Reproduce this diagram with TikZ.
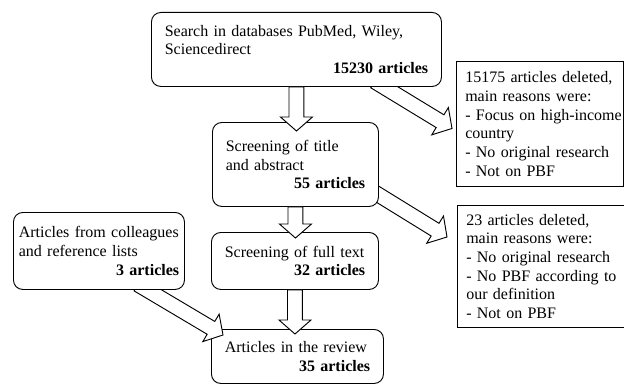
\documentclass[tikz,border=0pt]{standalone}
\usepackage{fontspec}
\setmainfont{Liberation Serif}
\usetikzlibrary{calc}
\pgfdeclarelayer{bg}\pgfdeclarelayer{mid}\pgfdeclarelayer{fg}
\pgfsetlayers{bg,mid,main,fg}
\tikzset{
  box/.style={draw,line width=0.7pt,rounded corners=7pt,fill=white,anchor=north west,align=left,inner xsep=10pt,inner ysep=2pt,font=\fontsize{12}{14}\selectfont},
  delbox/.style={box,rounded corners=0pt,inner xsep=6.6pt,text width=112pt},
  barr/.style={draw,line width=0.7pt,fill=white,line join=miter}
}
\newcommand{\cnt}[1]{\\\hspace*{\fill}\textbf{#1}}
\newcommand{\blockar}[3][0pt]{\coordinate (tb) at ($(#2)!-#1!(#3)$);
  \coordinate (hb) at ($(#3)!10.5pt!(#2)$);
  \draw[barr] ($(tb)!5.6pt!90:(#3)$) -- ($(hb)!5.6pt!90:(#3)$) -- ($(hb)!12pt!90:(#3)$) -- (#3)
    -- ($(hb)!12pt!-90:(#3)$) -- ($(hb)!5.6pt!-90:(#3)$) -- ($(tb)!5.6pt!-90:(#3)$) -- cycle;}

\begin{document}
\begin{tikzpicture}[x=0.75pt,y=-0.75pt]
\useasboundingbox (0,0) rectangle (624,385);
\begin{pgfonlayer}{bg}
\node[box,text width=109pt,minimum height=40.5pt] (review) at (211,329) {Articles in the review\cnt{35 articles}};
\end{pgfonlayer}
\node[box,text width=197.5pt,minimum height=55.5pt] (search) at (151,12) {Search in databases PubMed, Wiley,\\Sciencedirect\cnt{15230 articles}};
\node[box,text width=104.5pt,minimum height=63pt] (title) at (212,122) {Screening of title\\and abstract\cnt{55 articles}};
\node[box,text width=105.25pt,minimum height=42.75pt] (full) at (211,232) {Screening of full text\cnt{32 articles}};
\node[box,inner xsep=4pt,text width=120.25pt,minimum height=57.75pt] (coll) at (13,212) {Articles from colleagues\\and reference lists\cnt{3 articles}};
\node[delbox,minimum height=93.75pt] (del1) at (456,61) {\mbox{15175 articles deleted,}\\main reasons were:\\\mbox{- Focus on high-income}\\country\\\mbox{- No original research}\\- Not on PBF};
\node[delbox,minimum height=91.5pt] (del2) at (457,205) {\mbox{23 articles deleted,}\\main reasons were:\\\mbox{- No original research}\\\mbox{- No PBF according to}\\our definition\\- Not on PBF};
% side arrows
\begin{pgfonlayer}{mid}
\coordinate (sD) at ($(search.south west)!0.8!(search.south east)$);
\coordinate (tD) at ($(del1.west)+(-4,4.5)$);
\blockar[8pt]{sD}{tD}
\coordinate (sF) at ($(title.north east)!0.86!(title.south east)$);
\coordinate (tF) at ($(del2.north west)+(-10,32)$);
\blockar[8pt]{sF}{tF}
\coordinate (sE) at ($(coll.south west)!0.78!(coll.south east)$);
\coordinate (tE) at ($(review.north west)+(12,6)$);
\blockar[8pt]{sE}{tE}
\end{pgfonlayer}
% main flow
\begin{pgfonlayer}{fg}
\coordinate (tA) at ($(search.south |- title.north)+(0,9)$);
\blockar{search.south}{tA}
\coordinate (tB) at ($(title.south |- full.north)+(0,6)$);
\blockar{title.south}{tB}
\coordinate (tC) at ($(full.south |- review.north)+(0,5)$);
\blockar{full.south}{tC}
\end{pgfonlayer}
\end{tikzpicture}
\end{document}
